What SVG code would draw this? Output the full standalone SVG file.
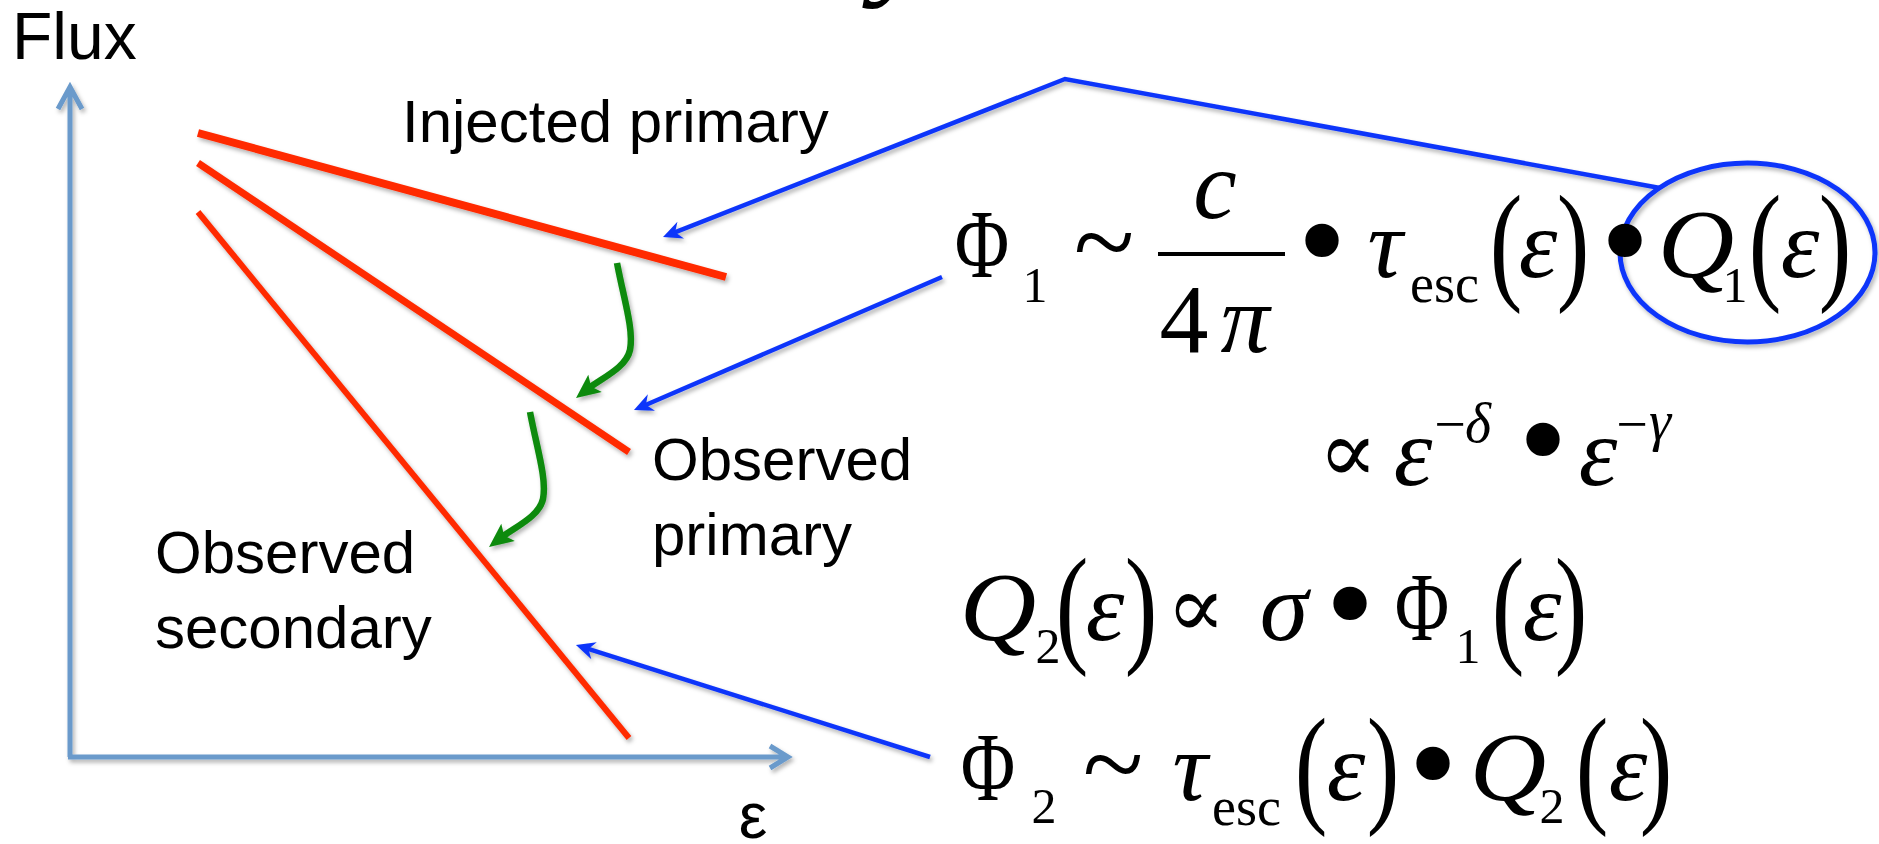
<svg xmlns="http://www.w3.org/2000/svg" width="1879" height="844" viewBox="0 0 1879 844">
<style>
.m{font-family:"Liberation Serif","DejaVu Serif",serif;fill:#000;text-anchor:middle}
.i{font-style:italic}
.b{font-size:98px}
.s{font-size:50px}
.sup{font-size:56px}
.dot{font-size:140px}
.til{font-size:112px}
.lbl{font-family:"Liberation Sans",Arial,sans-serif;fill:#000;font-size:60px}
.red{stroke:#FF2A00;fill:none;stroke-linecap:butt}
.blue{stroke:#0D35FA;stroke-width:4.5;fill:none}
.green{stroke:#0A8A0A;stroke-width:6.5;fill:none}
.axis{stroke:#6A9ACB;stroke-width:5;fill:none}
</style>
<defs>
<filter id="sh" x="-10%" y="-10%" width="130%" height="130%">
<feDropShadow dx="2" dy="3" stdDeviation="2" flood-color="#000" flood-opacity="0.3"/>
</filter>
<marker id="ab" markerUnits="userSpaceOnUse" viewBox="-10 -10 26 20" refX="0" refY="0" markerWidth="26" markerHeight="20" orient="auto">
<path d="M12,0 L-7,-9 L-1,0 L-7,9 Z" fill="#0D35FA"/>
</marker>
<marker id="ag" markerUnits="userSpaceOnUse" viewBox="-10 -13 28 26" refX="0" refY="0" markerWidth="28" markerHeight="26" orient="auto">
<path d="M16,0 L-8,-11 L-3,0 L-8,11 Z" fill="#0A8A0A"/>
</marker>
</defs>
<rect width="1879" height="844" fill="#fff"/>

<g id="title-fragment">
<text class="m i" x="905" y="-21" style="font-size:140px">y</text>
</g>

<g id="axes" filter="url(#sh)">
<path class="axis" d="M70,757 L70,88 M58,109 L70,87 L82,109"/>
<path class="axis" d="M68,757 L787,757 M770,746 L788,757 L770,768"/>
</g>
<g id="axis-labels">
<text class="lbl" x="12" y="59" style="font-size:66px">Flux</text>
<text class="lbl" x="753" y="838" text-anchor="middle" style="font-size:64px">ε</text>
</g>

<g id="spectra" filter="url(#sh)">
<line class="red" x1="198" y1="133" x2="726" y2="277" stroke-width="8"/>
<line class="red" x1="198" y1="163" x2="629" y2="452" stroke-width="7"/>
<line class="red" x1="198" y1="212" x2="629" y2="738" stroke-width="6"/>
</g>

<g id="labels">
<text class="lbl" x="402" y="142">Injected primary</text>
<text class="lbl" x="652" y="480">Observed</text>
<text class="lbl" x="652" y="555">primary</text>
<text class="lbl" x="155" y="573">Observed</text>
<text class="lbl" x="155" y="648">secondary</text>
</g>

<g id="connectors" filter="url(#sh)">
<path class="green" d="M617,263 C624,300 634,330 630,350 C626,368 602,378 588.7,388.3" marker-end="url(#ag)"/>
<path class="green" d="M530,412 C537,449 547,479 543,499 C539,517 515,527 501.7,537.3" marker-end="url(#ag)"/>
<path class="blue" d="M1660,188 L1065,79 L674.2,232.6" marker-end="url(#ab)"/>
<path class="blue" d="M942,277 L645,405.2" marker-end="url(#ab)"/>
<path class="blue" d="M930,757 L587.4,648.6" marker-end="url(#ab)"/>
<ellipse cx="1747.5" cy="252.5" rx="127.5" ry="89.5" fill="none" stroke="#0D35FA" stroke-width="5"/>
</g>

<g id="eq1">
<text class="m b" transform="translate(982,277) scale(0.76,1)">Φ</text>
<text class="m s" x="1035" y="302">1</text>
<text class="m til" x="1104" y="280">~</text>
<text class="m b i" x="1215" y="218">c</text>
<line x1="1158" y1="254" x2="1285" y2="254" stroke="#000" stroke-width="4"/>
<text class="m b" x="1184" y="352">4</text>
<text class="m b i" x="1245" y="352">π</text>
<text class="m dot" x="1322" y="287">•</text>
<text class="m b i" x="1385" y="277">τ</text>
<text class="m" x="1410" y="302" style="font-size:54px;text-anchor:start">esc</text>
<text class="m b" transform="translate(1506,286) scale(1,1.34)">(</text>
<text class="m b i" x="1538" y="277">ε</text>
<text class="m b" transform="translate(1573,286) scale(1,1.34)">)</text>
<text class="m dot" x="1625" y="287">•</text>
<text class="m b i" transform="translate(1696,277) scale(1.08,1)">Q</text>
<text class="m s" x="1735" y="302">1</text>
<text class="m b" transform="translate(1765,286) scale(1,1.34)">(</text>
<text class="m b i" x="1800" y="277">ε</text>
<text class="m b" transform="translate(1835,286) scale(1,1.34)">)</text>
</g>

<g id="eq2">
<text class="m" x="1348" y="482" style="font-size:88px">∝</text>
<text class="m b i" x="1413" y="485">ε</text>
<text class="m sup" x="1450" y="443">−</text>
<text class="m sup i" x="1478" y="442">δ</text>
<text class="m dot" x="1543" y="486">•</text>
<text class="m b i" x="1598" y="485">ε</text>
<text class="m sup" x="1632" y="443">−</text>
<text class="m sup i" x="1660" y="440">γ</text>
</g>

<g id="eq3">
<text class="m b i" transform="translate(998,640) scale(1.08,1)">Q</text>
<text class="m s" x="1048" y="663">2</text>
<text class="m b" transform="translate(1072,649) scale(1,1.34)">(</text>
<text class="m b i" x="1105" y="640">ε</text>
<text class="m b" transform="translate(1141,649) scale(1,1.34)">)</text>
<text class="m" x="1196" y="637" style="font-size:88px">∝</text>
<text class="m b i" x="1284" y="640">σ</text>
<text class="m dot" x="1350" y="650">•</text>
<text class="m b" transform="translate(1422,640) scale(0.76,1)">Φ</text>
<text class="m s" x="1468" y="663">1</text>
<text class="m b" transform="translate(1508,649) scale(1,1.34)">(</text>
<text class="m b i" x="1542" y="640">ε</text>
<text class="m b" transform="translate(1571,649) scale(1,1.34)">)</text>
</g>

<g id="eq4">
<text class="m b" transform="translate(988,800) scale(0.76,1)">Φ</text>
<text class="m s" x="1044" y="823">2</text>
<text class="m til" x="1113" y="802">~</text>
<text class="m b i" x="1190" y="800">τ</text>
<text class="m" x="1212" y="825" style="font-size:54px;text-anchor:start">esc</text>
<text class="m b" transform="translate(1311,809) scale(1,1.34)">(</text>
<text class="m b i" x="1346" y="800">ε</text>
<text class="m b" transform="translate(1383,809) scale(1,1.34)">)</text>
<text class="m dot" x="1433" y="810">•</text>
<text class="m b i" transform="translate(1508,800) scale(1.08,1)">Q</text>
<text class="m s" x="1552" y="823">2</text>
<text class="m b" transform="translate(1592,809) scale(1,1.34)">(</text>
<text class="m b i" x="1628" y="800">ε</text>
<text class="m b" transform="translate(1656,809) scale(1,1.34)">)</text>
</g>
</svg>
